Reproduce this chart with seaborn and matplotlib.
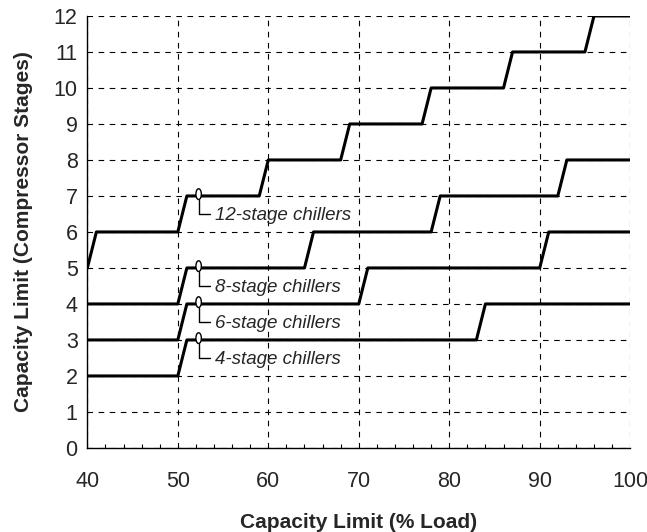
import pandas as pd
import numpy as np
import matplotlib.pyplot as plt
import matplotlib.patches as mpatches
import seaborn as sns

# ── DATA ─────────────────────────────────────────────────────────────────────
load_12 = [40, 41, 50, 51, 59, 60, 68, 69, 77, 78, 86, 87, 95, 96, 100]
stage_12 = [5, 6, 6, 7, 7, 8, 8, 9, 9, 10, 10, 11, 11, 12, 12]

load_8 = [40, 50, 51, 64, 65, 78, 79, 92, 93, 100]
stage_8 = [4, 4, 5, 5, 6, 6, 7, 7, 8, 8]

load_6 = [40, 50, 51, 70, 71, 90, 91, 100]
stage_6 = [3, 3, 4, 4, 5, 5, 6, 6]

load_4 = [40, 50, 51, 83, 84, 100]
stage_4 = [2, 2, 3, 3, 4, 4]

series_names = ["12-stage chillers", "8-stage chillers", "6-stage chillers", "4-stage chillers"]
callout_levels = [7, 5, 4, 3]
callout_x = 52.3

x_ticks = [40, 50, 60, 70, 80, 90, 100]
y_ticks = list(range(0, 13))

df = pd.concat([
    pd.DataFrame({"load": load_12, "stage": stage_12, "series": series_names[0]}),
    pd.DataFrame({"load": load_8, "stage": stage_8, "series": series_names[1]}),
    pd.DataFrame({"load": load_6, "stage": stage_6, "series": series_names[2]}),
    pd.DataFrame({"load": load_4, "stage": stage_4, "series": series_names[3]}),
], ignore_index=True)

# ── STYLE ────────────────────────────────────────────────────────────────────
sns.set_style("white")
plt.rcParams["font.family"] = ["Liberation Sans", "DejaVu Sans"]

fig = plt.figure(figsize=(6.47, 5.32), dpi=100)
ax = fig.add_axes([0.135, 0.158, 0.839, 0.812])

for name in series_names:
    sub = df[df["series"] == name]
    sns.lineplot(data=sub, x="load", y="stage", ax=ax, color="black",
                 linewidth=2.2, sort=False, estimator=None, legend=False, zorder=3)

# callouts
for name, lvl in zip(series_names, callout_levels):
    ell = mpatches.Ellipse((callout_x, lvl + 0.05), 0.6, 0.3, facecolor="white",
                           edgecolor="black", linewidth=1.0, zorder=4)
    ax.add_patch(ell)
    ax.plot([callout_x, callout_x, 53.6], [lvl - 0.1, lvl - 0.5, lvl - 0.5],
            color="black", linewidth=1.0, zorder=4)
    ax.text(54.1, lvl - 0.53, name, fontsize=13.5, style="italic",
            ha="left", va="center", zorder=4)

ax.set_xlim(40, 100)
ax.set_ylim(0, 12)
ax.set_xticks(x_ticks)
ax.set_yticks(y_ticks)
ax.set_xticks(np.arange(40, 101, 2), minor=True)

ax.grid(True, which="major", color="black", linestyle=(0, (5, 5)), linewidth=0.8)
ax.set_axisbelow(True)

for side in ["top", "right"]:
    ax.spines[side].set_visible(False)
for side in ["left", "bottom"]:
    ax.spines[side].set_color("black")
    ax.spines[side].set_linewidth(1.0)

ax.tick_params(axis="both", which="major", direction="inout", length=7, width=1,
               color="black", labelsize=15.5)
ax.tick_params(axis="x", which="major", pad=13)
ax.tick_params(axis="x", which="minor", direction="in", length=3, width=0.8,
               color="black", bottom=True)

ax.set_xlabel("Capacity Limit (% Load)", fontsize=15, fontweight="bold", labelpad=15)
ax.set_ylabel("Capacity Limit (Compressor Stages)", fontsize=15, fontweight="bold", labelpad=15)

plt.savefig("out.png", dpi=100)
